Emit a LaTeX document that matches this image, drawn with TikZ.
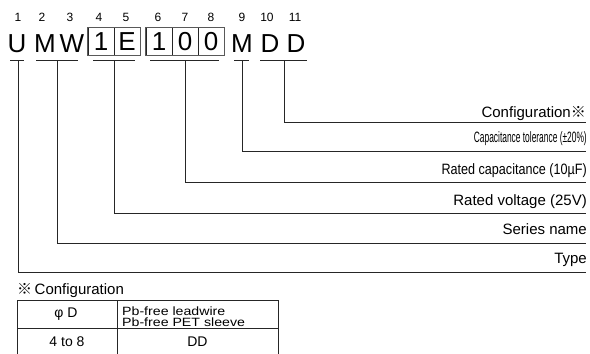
\documentclass[tikz,border=0pt]{standalone}
\usepackage{fontspec}
\setmainfont{Liberation Sans}
\newfontfamily\cjkfont{Noto Sans CJK JP}
\begin{document}
\begin{tikzpicture}[x=1pt,y=-1pt,
  big/.style={font=\fontsize{26}{26}\selectfont, inner sep=0pt, anchor=base},
  num/.style={font=\fontsize{12}{12}\selectfont, inner sep=0pt},
  cell/.style={draw=black!85, line width=0.7pt, minimum width=26pt, minimum height=28pt, inner sep=0pt, font=\fontsize{26}{26}\selectfont},
  frame/.style={draw=black!65, line width=1pt},
  lbl/.style={font=\fontsize{15}{15}\selectfont, inner sep=0pt, anchor=base east},
  ln/.style={draw=black!85, line width=0.85pt},
  tbl/.style={font=\fontsize{14}{14}\selectfont, inner sep=0pt},
  pbt/.style={font=\fontsize{12}{10.6}\selectfont, inner sep=0pt, align=left, anchor=north west},
]
\useasboundingbox (0,0) rectangle (590,354);

% position numbers
\foreach \n/\x in {1/18,2/42,3/70,4/99,5/126,6/158,7/185,8/211,9/242,10/267,11/295}
  \node[num] (n\n) at (\x,17.5) {\n};

% code letters
\node[big] (cU) at (17,52) {U};
\node[big] (cM) at (45,52) {M};
\node[big] (cW) at (72,52) {W};
\node[cell] (c4) at (101,41.5) {1};
\node[cell] (c5) at (127,41.5) {E};
\node[cell] (c6) at (159,41.5) {1};
\node[cell] (c7) at (185,41.5) {0};
\node[cell] (c8) at (211,41.5) {0};
\node[big] (c9) at (242,52) {M};
\node[big] (c10) at (270,52) {D};
\node[big] (c11) at (296,52) {D};
\draw[frame] ([shift={(-0.6pt,-0.6pt)}]c4.north west) rectangle ([shift={(0.6pt,0.6pt)}]c5.south east);
\draw[frame] ([shift={(-0.6pt,-0.6pt)}]c6.north west) rectangle ([shift={(0.6pt,0.6pt)}]c8.south east);

% labels
\node[lbl] (lCfg) at (586,117) {Configuration{\cjkfont ※}};
\node[lbl] (lTol) at (587,142) {\scalebox{0.56}[1]{Capacitance tolerance (±20\%)}};
\node[lbl] (lCap) at (587,174) {\scalebox{0.84}[1]{Rated capacitance (10µF)}};
\node[lbl] (lVolt) at (587,205) {Rated voltage (25V)};
\node[lbl] (lSer) at (587,234) {Series name};
\node[lbl] (lType) at (587,263) {Type};

% underline coordinates
\coordinate (uUa) at (10,60);   \coordinate (uUb) at (24,60);   \coordinate (uUs) at (18,60);
\coordinate (uMWa) at (36,60);  \coordinate (uMWb) at (78,60);  \coordinate (uMWs) at (57,60);
\coordinate (uVa) at (93,60);   \coordinate (uVb) at (135,60);  \coordinate (uVs) at (114,60);
\coordinate (uCa) at (150,60);  \coordinate (uCb) at (219,60);  \coordinate (uCs) at (185,60);
\coordinate (uTa) at (234,60);  \coordinate (uTb) at (249,60);  \coordinate (uTs) at (242,60);
\coordinate (uDa) at (260,60);  \coordinate (uDb) at (307,60);  \coordinate (uDs) at (284,60);
% line ends
\coordinate (eCfg) at (586,122);
\coordinate (eTol) at (586,151);
\coordinate (eCap) at (586,182);
\coordinate (eVolt) at (586,213);
\coordinate (eSer) at (586,243);
\coordinate (eType) at (586,272);

\draw[ln] (uUa) -- (uUb);  \draw[ln] (uUs) |- (eType);
\draw[ln] (uMWa) -- (uMWb); \draw[ln] (uMWs) |- (eSer);
\draw[ln] (uVa) -- (uVb);  \draw[ln] (uVs) |- (eVolt);
\draw[ln] (uCa) -- (uCb);  \draw[ln] (uCs) |- (eCap);
\draw[ln] (uTa) -- (uTb);  \draw[ln] (uTs) |- (eTol);
\draw[ln] (uDa) -- (uDb);  \draw[ln] (uDs) |- (eCfg);

% configuration table
\node[font=\fontsize{15}{15}\selectfont, inner sep=0pt, anchor=base west] (cfgT) at (17,294) {{\cjkfont ※}\,Configuration};
\draw[ln] (17,354) -- (17,300) -- (278,300) -- (278,354);
\draw[ln] (117,300) -- (117,354);
\draw[ln] (17,328) -- (278,328);
\node[tbl] (phi) at (66,314) {φ D};
\node[pbt] (pb) at (122,306.5) {\scalebox{1.18}[1]{Pb-free leadwire}\\\scalebox{1.18}[1]{Pb-free PET sleeve}};
\node[tbl, anchor=base] (r1) at (67,346) {4 to 8};
\node[tbl, anchor=base] (r2) at (197.5,346) {DD};
\end{tikzpicture}
\end{document}
